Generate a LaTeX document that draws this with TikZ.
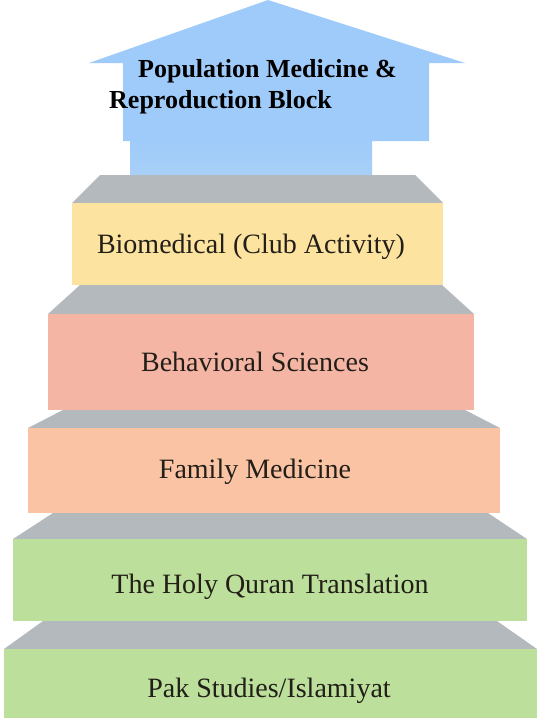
\documentclass[tikz,border=0pt]{standalone}
\usepackage{fontspec}
\setmainfont{Liberation Serif}
\definecolor{arrowblue}{HTML}{9FCBFA}
\definecolor{arrowblue2}{HTML}{A8D0F8}
\definecolor{stepgray}{HTML}{B4B9BE}
\definecolor{cyellow}{HTML}{FDE3A0}
\definecolor{cpink}{HTML}{F5B5A5}
\definecolor{csalmon}{HTML}{F9C3A4}
\definecolor{cgreen}{HTML}{BCDF9B}
\definecolor{labeltext}{HTML}{221E18}
\begin{document}
\begin{tikzpicture}[x=1pt,y=-1pt,
  tread/.style={fill=stepgray,draw=none},
  riser/.style={draw=none},
  lbl/.style={anchor=base,inner sep=0pt,text=labeltext,font=\fontsize{28}{32}\selectfont}]
\useasboundingbox (0,0) rectangle (540,723);
\fill[white] (0,0) rectangle (540,723);
% arrow
\fill[arrowblue] (268,0) -- (465,63) -- (429,63) -- (429,141) -- (123,141) -- (123,63) -- (89,63) -- cycle;
\shade[top color=arrowblue,bottom color=arrowblue2] (130,141) rectangle (372,175);
% step 1
\fill[tread] (100,175) -- (415,175) -- (443,203) -- (72,203) -- cycle;
\fill[cyellow] (72,203) rectangle (443,285);
% step 2
\fill[tread] (80,285) -- (442,285) -- (474,314) -- (48,314) -- cycle;
\fill[cpink] (48,314) rectangle (474,410);
% step 3
\fill[tread] (63,410) -- (465,410) -- (500,428) -- (28,428) -- cycle;
\fill[csalmon] (28,428) rectangle (500,513);
% step 4
\fill[tread] (53,513) -- (488,513) -- (527,539) -- (13,539) -- cycle;
\fill[cgreen] (13,539) rectangle (527,621);
% step 5
\fill[tread] (43,621) -- (497,621) -- (537,649) -- (4,649) -- cycle;
\fill[cgreen] (4,649) rectangle (537,718);
% labels
\node[anchor=north west,inner sep=0pt,align=left,font=\bfseries\fontsize{26}{31}\selectfont] (title) at (109,59.5) {\hspace*{29pt}Population Medicine \&\\Reproduction Block};
\node[lbl] (bio) at (251,253) {Biomedical (Club Activity)};
\node[lbl] (beh) at (255,371) {Behavioral Sciences};
\node[lbl] (fam) at (255,478) {Family Medicine};
\node[lbl] (quran) at (270,593) {The Holy Quran Translation};
\node[lbl] (pak) at (269,697) {Pak Studies/Islamiyat};
\end{tikzpicture}
\end{document}
